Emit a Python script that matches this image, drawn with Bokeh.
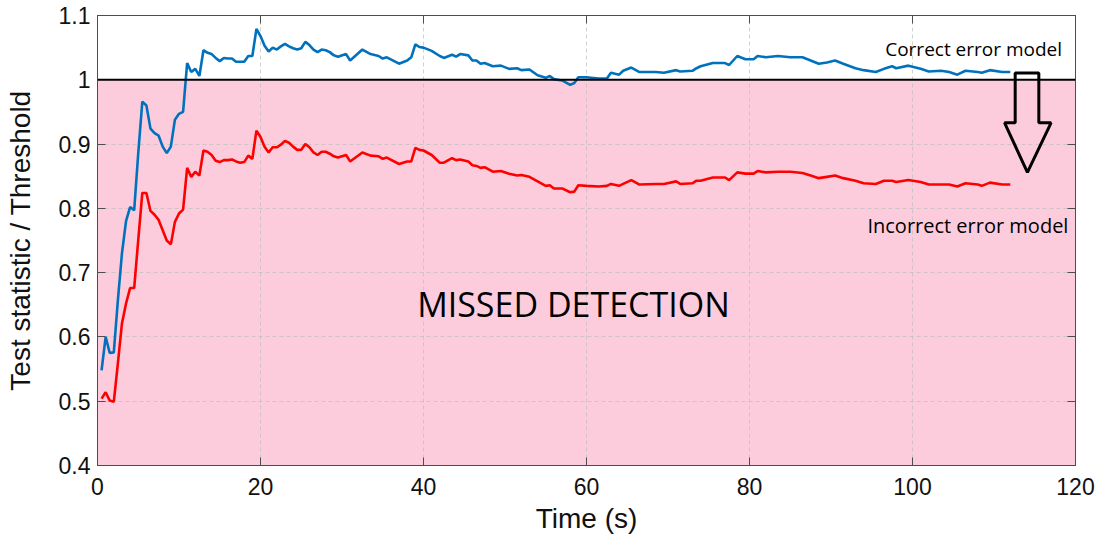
from bokeh.plotting import figure
from bokeh.models import LinearAxis, FixedTicker, Span, Label, Range1d
from bokeh.embed import file_html
from bokeh.resources import INLINE

# ---- data ----
time_s = [0.5, 1.0, 1.5, 2.0, 2.5, 3.0, 3.5, 4.0, 4.5, 5.0, 5.5, 6.0, 6.5, 7.0, 7.5, 8.0, 8.5, 9.0,
          9.5, 10.0, 10.5, 11.0, 11.5, 12.0, 12.5, 13.0, 13.5, 14.0, 14.5, 15.0, 15.5, 16.0, 16.5,
          17.0, 17.5, 18.0, 18.5, 19.0, 19.5, 20.0, 20.5, 21.0, 21.5, 22.0, 22.5, 23.0, 23.5, 24.0,
          24.5, 25.0, 25.5, 26.0, 26.5, 27.0, 27.5, 28.0, 28.5, 29.0, 29.5, 30.5, 31.0, 32.5, 33.5,
          34.5, 35.0, 35.5, 37.0, 38.0, 38.5, 39.0, 39.5, 40.0, 41.0, 42.0, 42.5, 43.5, 44.0, 44.5,
          45.5, 46.0, 46.5, 47.0, 47.5, 48.5, 49.5, 50.5, 51.5, 52.0, 53.0, 54.0, 55.0, 55.5, 56.0,
          57.0, 58.0, 58.5, 59.0, 60.0, 61.5, 62.5, 63.0, 64.0, 64.5, 65.5, 66.5, 68.5, 69.5, 71.0,
          71.5, 73.0, 73.5, 74.0, 75.5, 77.0, 77.5, 78.5, 79.5, 80.5, 81.0, 82.0, 83.5, 85.0, 86.5,
          87.5, 88.5, 89.5, 90.5, 91.5, 93.0, 94.0, 95.5, 96.5, 97.5, 98.0, 99.5, 101.0, 102.0,
          103.5, 104.5, 105.5, 106.5, 108.0, 108.5, 109.5, 111.0, 112.0]

correct_model = [0.548, 0.600, 0.575, 0.576, 0.657, 0.730, 0.780, 0.802, 0.797, 0.886, 0.966, 0.960,
                 0.924, 0.917, 0.913, 0.896, 0.886, 0.896, 0.938, 0.947, 0.950, 1.026, 1.012, 1.017,
                 1.006, 1.046, 1.042, 1.040, 1.034, 1.029, 1.034, 1.033, 1.033, 1.028, 1.028, 1.028,
                 1.037, 1.037, 1.079, 1.068, 1.053, 1.044, 1.050, 1.047, 1.052, 1.056, 1.052, 1.049,
                 1.047, 1.049, 1.059, 1.054, 1.047, 1.043, 1.047, 1.046, 1.043, 1.038, 1.036, 1.040,
                 1.030, 1.047, 1.040, 1.037, 1.033, 1.035, 1.025, 1.030, 1.035, 1.055, 1.051, 1.050,
                 1.045, 1.037, 1.034, 1.039, 1.036, 1.040, 1.038, 1.030, 1.030, 1.025, 1.026, 1.021,
                 1.022, 1.017, 1.018, 1.015, 1.016, 1.007, 1.003, 1.006, 1.001, 0.999, 0.992, 0.995,
                 1.004, 1.004, 1.002, 1.002, 1.011, 1.008, 1.014, 1.019, 1.012, 1.012, 1.011, 1.015,
                 1.013, 1.014, 1.018, 1.021, 1.026, 1.026, 1.023, 1.037, 1.032, 1.032, 1.037, 1.035,
                 1.037, 1.035, 1.035, 1.030, 1.025, 1.027, 1.030, 1.025, 1.018, 1.015, 1.012, 1.017,
                 1.021, 1.018, 1.022, 1.017, 1.013, 1.014, 1.012, 1.008, 1.014, 1.012, 1.011, 1.015,
                 1.012, 1.012]

incorrect_model = [0.504, 0.514, 0.501, 0.499, 0.559, 0.621, 0.652, 0.676, 0.676, 0.751, 0.824, 0.824,
                   0.796, 0.790, 0.782, 0.766, 0.750, 0.744, 0.779, 0.792, 0.798, 0.863, 0.849, 0.857,
                   0.851, 0.890, 0.888, 0.883, 0.874, 0.872, 0.875, 0.875, 0.876, 0.873, 0.871, 0.872,
                   0.882, 0.877, 0.921, 0.911, 0.896, 0.887, 0.895, 0.895, 0.899, 0.905, 0.902, 0.896,
                   0.891, 0.891, 0.900, 0.895, 0.887, 0.883, 0.888, 0.888, 0.885, 0.881, 0.879, 0.883,
                   0.873, 0.887, 0.882, 0.881, 0.877, 0.879, 0.869, 0.873, 0.873, 0.894, 0.891, 0.890,
                   0.883, 0.871, 0.871, 0.878, 0.875, 0.876, 0.873, 0.867, 0.866, 0.863, 0.864, 0.857,
                   0.858, 0.854, 0.851, 0.852, 0.849, 0.842, 0.835, 0.836, 0.831, 0.831, 0.825, 0.826,
                   0.836, 0.835, 0.834, 0.835, 0.838, 0.835, 0.838, 0.844, 0.837, 0.838, 0.838, 0.842,
                   0.838, 0.839, 0.843, 0.843, 0.848, 0.848, 0.844, 0.856, 0.854, 0.854, 0.858, 0.856,
                   0.857, 0.857, 0.855, 0.851, 0.847, 0.849, 0.851, 0.847, 0.843, 0.839, 0.838, 0.843,
                   0.843, 0.841, 0.844, 0.841, 0.837, 0.837, 0.837, 0.834, 0.839, 0.837, 0.835, 0.840,
                   0.837, 0.837]

threshold = 1.0
x_ticks = [0, 20, 40, 60, 80, 100, 120]
y_ticks = [0.4, 0.5, 0.6, 0.7, 0.8, 0.9, 1.0, 1.1]
y_tick_labels = ["0.4", "0.5", "0.6", "0.7", "0.8", "0.9", "1", "1.1"]

# arrow annotation geometry (data units)
arrow_x = [112.6, 115.5, 115.5, 117.0, 114.1, 111.3, 112.6]
arrow_y = [1.0107, 1.0107, 0.933, 0.933, 0.856, 0.933, 0.933]

BLUE = "#0072BD"
RED = "#FF0000"
PINK = "#FCCCDD"
FRAME = "#4d4d4d"

p = figure(width=1102, height=540, x_range=Range1d(0, 120), y_range=Range1d(0.4, 1.1),
           output_backend="svg", toolbar_location=None,
           min_border_left=97, min_border_right=27, min_border_top=15, min_border_bottom=75)

p.outline_line_color = FRAME
p.outline_line_width = 1
p.background_fill_color = "white"

# pink missed detection region
region = p.quad(left=[x_ticks[0]], right=[x_ticks[-1]], bottom=[y_ticks[0]], top=[threshold],
                fill_color=PINK, line_color=None)
region.level = "image"

# grid
for g in (p.xgrid, p.ygrid):
    g.grid_line_color = "#bdbdbd"
    g.grid_line_alpha = 0.7
    g.grid_line_dash = "4 3"
    g.grid_line_width = 1
    g.level = "underlay"
p.xgrid.ticker = FixedTicker(ticks=x_ticks)
p.ygrid.ticker = FixedTicker(ticks=y_ticks)

# threshold line
p.add_layout(Span(location=threshold, dimension="width", line_color="black", line_width=2))

# series
p.line(time_s, correct_model, line_color=BLUE, line_width=2.6)
p.line(time_s, incorrect_model, line_color=RED, line_width=2.6)

# arrow
p.patch(arrow_x, arrow_y, fill_color=None, line_color="black", line_width=3)

# axes
TICK_FONT = "Liberation Sans"
for ax in (p.xaxis[0], p.yaxis[0]):
    ax.axis_line_color = FRAME
    ax.major_tick_line_color = FRAME
    ax.major_tick_in = 8
    ax.major_tick_out = 0
    ax.minor_tick_line_color = None
    ax.major_label_text_font = TICK_FONT
    ax.major_label_text_font_size = "23px"
    ax.major_label_text_color = "#111111"
    ax.axis_label_text_font = TICK_FONT
    ax.axis_label_text_font_size = "28px"
    ax.axis_label_text_font_style = "normal"
    ax.axis_label_text_color = "#111111"

p.xaxis[0].ticker = FixedTicker(ticks=x_ticks)
p.yaxis[0].ticker = FixedTicker(ticks=y_ticks)
p.yaxis[0].major_label_overrides = {v: s for v, s in zip(y_ticks, y_tick_labels)}
p.xaxis[0].axis_label = "Time (s)"
p.yaxis[0].axis_label = "Test statistic / Threshold"
p.xaxis[0].major_label_standoff = 12
p.xaxis[0].axis_label_standoff = 5
p.yaxis[0].major_label_standoff = 7
p.yaxis[0].axis_label_standoff = 20

# mirrored ticks on the right and top
for loc, tks in (("right", y_ticks), ("above", x_ticks)):
    ax = LinearAxis(ticker=FixedTicker(ticks=tks))
    ax.axis_line_color = FRAME
    ax.major_tick_line_color = FRAME
    ax.major_tick_in = 8
    ax.major_tick_out = 0
    ax.minor_tick_line_color = None
    ax.major_label_text_font_size = "0px"
    ax.major_label_text_color = None
    ax.major_label_standoff = 0
    p.add_layout(ax, loc)

# text annotations
LABEL_FONT = "Open Sans"
p.add_layout(Label(x=107.5, y=1.0486, text="Correct error model", text_align="center",
                   text_baseline="alphabetic", text_font=LABEL_FONT, text_font_size="19px",
                   text_color="black"))
p.add_layout(Label(x=106.8, y=0.7735, text="Incorrect error model", text_align="center",
                   text_baseline="alphabetic", text_font=LABEL_FONT, text_font_size="20px",
                   text_color="black"))
p.add_layout(Label(x=58.4, y=0.652, text="MISSED DETECTION", text_align="center",
                   text_baseline="alphabetic", text_font=LABEL_FONT, text_font_size="34px",
                   text_color="black"))

open("out.html", "w").write(file_html(p, INLINE))
